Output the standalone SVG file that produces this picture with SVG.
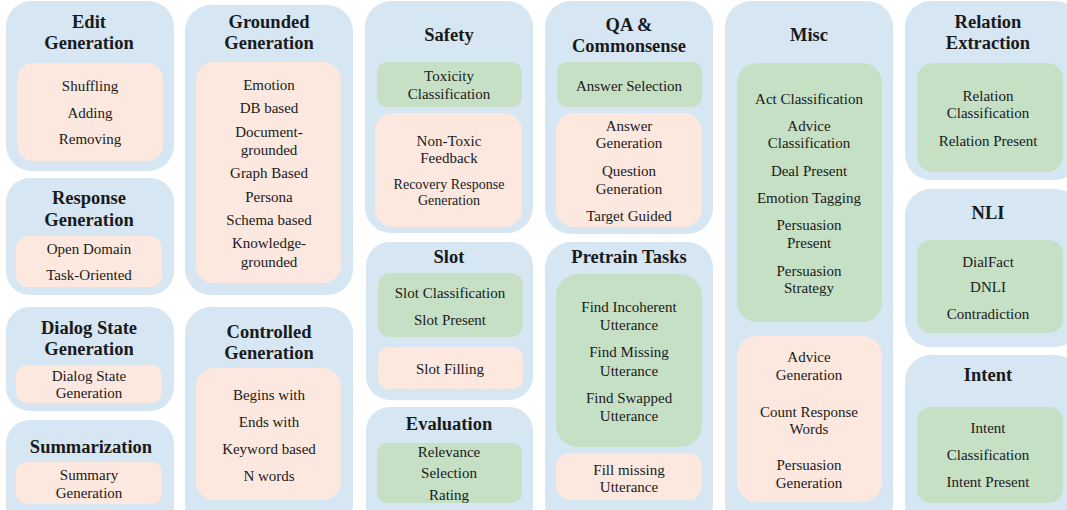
<svg xmlns="http://www.w3.org/2000/svg" width="1067" height="510" viewBox="0 0 1067 510">
<style>
.o{fill:#d6e6f3}
.p{fill:#fce8df}
.g{fill:#c6e0c6}
text{font-family:"Liberation Serif","Times New Roman",serif;fill:#1a1a1a;text-anchor:middle}
.t{font-size:18.5px;font-weight:bold}
.b{font-size:15px}
.s{font-size:14px}
</style>
<rect width="1067" height="510" fill="#ffffff"/>
<g id="edit-generation">
<rect class="o" x="6" y="1" width="168" height="170" rx="26"/>
<text class="t" x="89" y="28">Edit</text>
<text class="t" x="89" y="49">Generation</text>
<rect class="p" x="17" y="63" width="146" height="98" rx="16"/>
<text class="b" x="90" y="91">Shuffling</text>
<text class="b" x="90" y="118">Adding</text>
<text class="b" x="90" y="144">Removing</text>
</g>
<g id="response-generation">
<rect class="o" x="6" y="178" width="168" height="117" rx="24"/>
<text class="t" x="89" y="204">Response</text>
<text class="t" x="89" y="226">Generation</text>
<rect class="p" x="16" y="236" width="146" height="51" rx="12"/>
<text class="b" x="89" y="254">Open Domain</text>
<text class="b" x="89" y="280">Task-Oriented</text>
</g>
<g id="dialog-state-generation">
<rect class="o" x="6" y="307" width="168" height="104" rx="24"/>
<text class="t" x="89" y="334">Dialog State</text>
<text class="t" x="89" y="355">Generation</text>
<rect class="p" x="16" y="365" width="146" height="38" rx="10"/>
<text class="b" x="89" y="381">Dialog State</text>
<text class="b" x="89" y="398">Generation</text>
</g>
<g id="summarization">
<rect class="o" x="6" y="420" width="168" height="110" rx="24"/>
<text class="t" x="91" y="453">Summarization</text>
<rect class="p" x="16" y="462" width="146" height="42" rx="10"/>
<text class="b" x="89" y="480">Summary</text>
<text class="b" x="89" y="498">Generation</text>
</g>
<g id="grounded-generation">
<rect class="o" x="185" y="5" width="168" height="290" rx="26"/>
<text class="t" x="269" y="28">Grounded</text>
<text class="t" x="269" y="49">Generation</text>
<rect class="p" x="196" y="62" width="145" height="221" rx="18"/>
<text class="b" x="269" y="90">Emotion</text>
<text class="b" x="269" y="113">DB based</text>
<text class="b" x="269" y="137">Document-</text>
<text class="b" x="269" y="155">grounded</text>
<text class="b" x="269" y="178">Graph Based</text>
<text class="b" x="269" y="202">Persona</text>
<text class="b" x="269" y="225">Schema based</text>
<text class="b" x="269" y="248">Knowledge-</text>
<text class="b" x="269" y="267">grounded</text>
</g>
<g id="controlled-generation">
<rect class="o" x="185" y="307" width="168" height="223" rx="26"/>
<text class="t" x="269" y="338">Controlled</text>
<text class="t" x="269" y="359">Generation</text>
<rect class="p" x="196" y="368" width="145" height="132" rx="18"/>
<text class="b" x="269" y="400">Begins with</text>
<text class="b" x="269" y="427">Ends with</text>
<text class="b" x="269" y="454">Keyword based</text>
<text class="b" x="269" y="481">N words</text>
</g>
<g id="safety">
<rect class="o" x="365" y="1" width="168" height="232" rx="26"/>
<text class="t" x="449" y="41">Safety</text>
<rect class="g" x="377" y="62" width="145" height="45" rx="10"/>
<text class="b" x="449" y="81">Toxicity</text>
<text class="b" x="449" y="99">Classification</text>
<rect class="p" x="375" y="113" width="147" height="114" rx="18"/>
<text class="b" x="449" y="146">Non-Toxic</text>
<text class="b" x="449" y="163">Feedback</text>
<text class="s" x="449" y="189">Recovery Response</text>
<text class="s" x="449" y="205">Generation</text>
</g>
<g id="slot">
<rect class="o" x="366" y="242" width="167" height="158" rx="24"/>
<text class="t" x="449" y="263">Slot</text>
<rect class="g" x="378" y="273" width="145" height="64" rx="12"/>
<text class="b" x="450" y="298">Slot Classification</text>
<text class="b" x="450" y="325">Slot Present</text>
<rect class="p" x="378" y="347" width="145" height="42" rx="10"/>
<text class="b" x="450" y="374">Slot Filling</text>
</g>
<g id="evaluation">
<rect class="o" x="366" y="407" width="167" height="123" rx="24"/>
<text class="t" x="449" y="430">Evaluation</text>
<rect class="g" x="377" y="443" width="145" height="60" rx="10"/>
<text class="b" x="449" y="457">Relevance</text>
<text class="b" x="449" y="478">Selection</text>
<text class="b" x="449" y="500">Rating</text>
</g>
<g id="qa-commonsense">
<rect class="o" x="545" y="1" width="168" height="233" rx="26"/>
<text class="t" x="629" y="31">QA &amp;</text>
<text class="t" x="629" y="52">Commonsense</text>
<rect class="g" x="557" y="62" width="145" height="45" rx="10"/>
<text class="b" x="629" y="91">Answer Selection</text>
<rect class="p" x="556" y="113" width="146" height="114" rx="18"/>
<text class="b" x="629" y="131">Answer</text>
<text class="b" x="629" y="148">Generation</text>
<text class="b" x="629" y="176">Question</text>
<text class="b" x="629" y="194">Generation</text>
<text class="b" x="629" y="221">Target Guided</text>
</g>
<g id="pretrain-tasks">
<rect class="o" x="545" y="242" width="168" height="288" rx="26"/>
<text class="t" x="629" y="263">Pretrain Tasks</text>
<rect class="g" x="556" y="274" width="146" height="173" rx="22"/>
<text class="b" x="629" y="312">Find Incoherent</text>
<text class="b" x="629" y="330">Utterance</text>
<text class="b" x="629" y="357">Find Missing</text>
<text class="b" x="629" y="376">Utterance</text>
<text class="b" x="629" y="403">Find Swapped</text>
<text class="b" x="629" y="421">Utterance</text>
<rect class="p" x="556" y="453" width="146" height="47" rx="14"/>
<text class="b" x="629" y="475">Fill missing</text>
<text class="b" x="629" y="492">Utterance</text>
</g>
<g id="misc">
<rect class="o" x="725" y="1" width="168" height="529" rx="26"/>
<text class="t" x="809" y="41">Misc</text>
<rect class="g" x="737" y="63" width="145" height="259" rx="20"/>
<text class="b" x="809" y="104">Act Classification</text>
<text class="b" x="809" y="131">Advice</text>
<text class="b" x="809" y="148">Classification</text>
<text class="b" x="809" y="176">Deal Present</text>
<text class="b" x="809" y="203">Emotion Tagging</text>
<text class="b" x="809" y="230">Persuasion</text>
<text class="b" x="809" y="248">Present</text>
<text class="b" x="809" y="276">Persuasion</text>
<text class="b" x="809" y="293">Strategy</text>
<rect class="p" x="737" y="336" width="145" height="166" rx="20"/>
<text class="b" x="809" y="362">Advice</text>
<text class="b" x="809" y="380">Generation</text>
<text class="b" x="809" y="417">Count Response</text>
<text class="b" x="809" y="434">Words</text>
<text class="b" x="809" y="470">Persuasion</text>
<text class="b" x="809" y="488">Generation</text>
</g>
<g id="relation-extraction">
<rect class="o" x="905" y="1" width="176" height="179" rx="26"/>
<text class="t" x="988" y="28">Relation</text>
<text class="t" x="988" y="49">Extraction</text>
<rect class="g" x="917" y="63" width="146" height="109" rx="16"/>
<text class="b" x="988" y="101">Relation</text>
<text class="b" x="988" y="118">Classification</text>
<text class="b" x="988" y="146">Relation Present</text>
</g>
<g id="nli">
<rect class="o" x="905" y="189" width="176" height="158" rx="26"/>
<text class="t" x="988" y="219">NLI</text>
<rect class="g" x="917" y="240" width="146" height="93" rx="14"/>
<text class="b" x="988" y="267">DialFact</text>
<text class="b" x="988" y="292">DNLI</text>
<text class="b" x="988" y="319">Contradiction</text>
</g>
<g id="intent">
<rect class="o" x="905" y="355" width="176" height="175" rx="26"/>
<text class="t" x="988" y="381">Intent</text>
<rect class="g" x="917" y="407" width="146" height="96" rx="14"/>
<text class="b" x="988" y="433">Intent</text>
<text class="b" x="988" y="460">Classification</text>
<text class="b" x="988" y="487">Intent Present</text>
</g>
</svg>
